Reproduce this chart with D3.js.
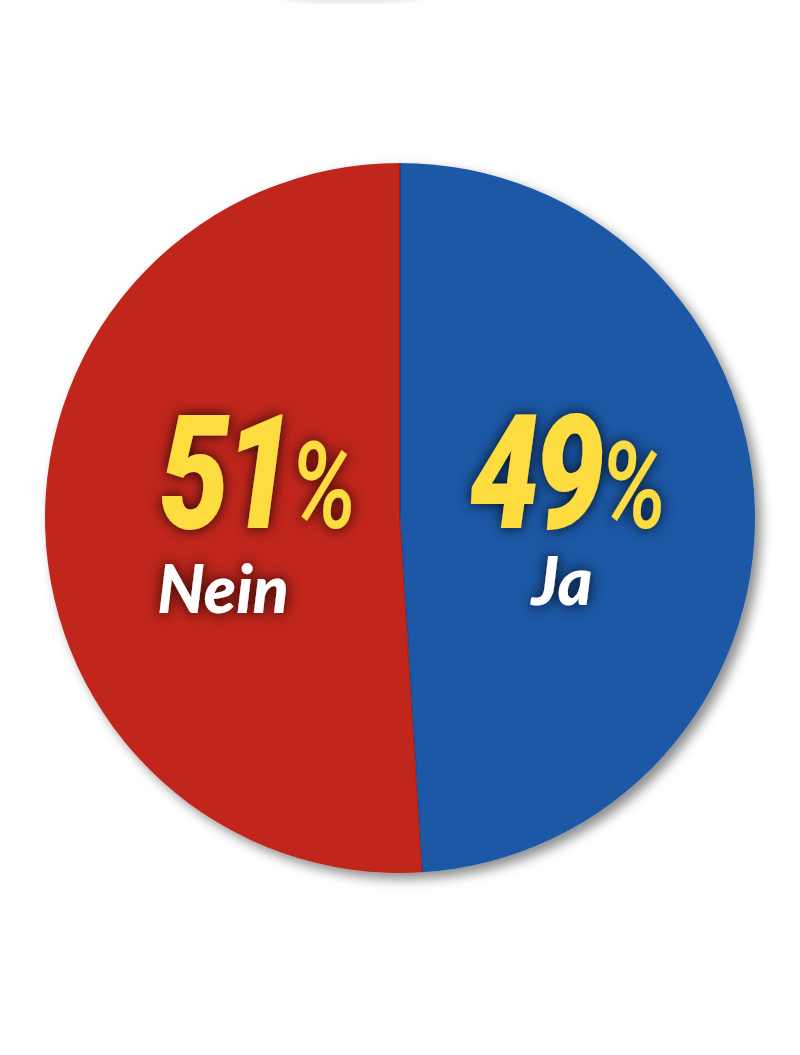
<!DOCTYPE html>
<html><head><meta charset="utf-8">
<script src="https://cdn.jsdelivr.net/npm/d3@7"></script>
<style>body{margin:0;background:#fff}</style>
</head><body>
<div id="chart"></div>
<script>
const labels = ["Ja", "Nein"];
const values = [49, 51];
const colors = ["#1f59a6", "#c0251c"];

const width = 800, height = 1055;
const cx = 400, cy = 518, r = 355;

const svg = d3.select("#chart").append("svg")
  .attr("width", width).attr("height", height);

const defs = svg.append("defs");
const sh = defs.append("filter").attr("id", "pieShadow")
  .attr("x", "-20%").attr("y", "-20%").attr("width", "140%").attr("height", "140%");
sh.append("feDropShadow").attr("dx", 6).attr("dy", 6).attr("stdDeviation", 6)
  .attr("flood-color", "#000").attr("flood-opacity", 0.45);
const glow = defs.append("filter").attr("id", "glow")
  .attr("x", "-30%").attr("y", "-30%").attr("width", "160%").attr("height", "160%");
glow.append("feDropShadow").attr("dx", 0).attr("dy", 0).attr("stdDeviation", 7)
  .attr("flood-color", "#000").attr("flood-opacity", 0.85);
const softF = defs.append("filter").attr("id", "soft");
softF.append("feGaussianBlur").attr("stdDeviation", 4);

// faint shadow of something cut off at the top
svg.append("ellipse").attr("cx", 350).attr("cy", -6).attr("rx", 70).attr("ry", 8)
  .attr("fill", "#bbb").attr("opacity", 0.5).attr("filter", "url(#soft)");

const pie = d3.pie().sort(null).value(d => d)(values);
const arc = d3.arc().innerRadius(0).outerRadius(r);

const g = svg.append("g").attr("transform", `translate(${cx},${cy})`)
  .attr("filter", "url(#pieShadow)");
g.selectAll("path").data(pie).join("path")
  .attr("d", arc).attr("fill", (d, i) => colors[i]);

// divider shading
const lines = svg.append("g").attr("transform", `translate(${cx},${cy})`);
lines.selectAll("path").data(pie).join("path")
  .attr("d", d => `M0,0L${r * Math.sin(d.startAngle)},${-r * Math.cos(d.startAngle)}`)
  .attr("stroke", "#000").attr("stroke-opacity", 0.15).attr("stroke-width", 2);

const pos = [
  { x: 568, y: 528, lx: 562, ly: 605 },
  { x: 258, y: 528, lx: 223, ly: 613 }
];

const t = svg.append("g").attr("filter", "url(#glow)");
values.forEach((v, i) => {
  const p = pos[i];
  const txt = t.append("text")
    .attr("transform", `translate(${p.x},${p.y}) scale(0.78,1)`)
    .attr("text-anchor", "middle")
    .attr("font-family", "Roboto, sans-serif")
    .attr("font-style", "italic")
    .attr("fill", "#fddc3f");
  txt.append("tspan").attr("font-weight", 900).attr("font-size", 160)
    .attr("letter-spacing", -6).text(v);
  txt.append("tspan").attr("font-weight", 500).attr("font-size", 120).text("%");
  t.append("text")
    .attr("x", p.lx).attr("y", p.ly)
    .attr("text-anchor", "middle")
    .attr("font-family", "Lato, Roboto, sans-serif")
    .attr("font-style", "italic").attr("font-weight", 900)
    .attr("font-size", 66).attr("fill", "#fff")
    .text(labels[i]);
});
</script>
</body></html>
